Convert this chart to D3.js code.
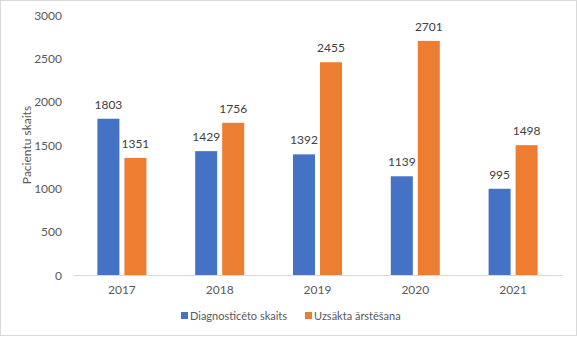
<!DOCTYPE html>
<html><head><meta charset="utf-8">
<script src="https://cdn.jsdelivr.net/npm/d3@7"></script>
<style>body{margin:0;background:#fff}svg{display:block}text{font-family:Lato,"Open Sans",sans-serif}</style>
</head><body>
<svg id="c" width="577" height="337"></svg>
<script>
const categories = ["2017","2018","2019","2020","2021"];
const seriesNames = ["Diagnosticēto skaits","Uzsākta ārstēšana"];
const diagnosed = [1803,1429,1392,1139,995];
const treated = [1351,1756,2455,2701,1498];
const yTicks = [0,500,1000,1500,2000,2500,3000];
const colors = ["#4472c4","#ed7d31"];
const yTitle = "Pacientu skaits";

const svg = d3.select("#c");
svg.append("rect").attr("x",0.5).attr("y",0.5).attr("width",576).attr("height",335)
  .attr("fill","#fff").attr("stroke","#d9d9d9");

const x0 = d3.scaleBand().domain(categories).range([73,562]);
const y = d3.scaleLinear().domain([0,3000]).range([275,15]);
const barW = 22, gap = 5;
const series = [diagnosed, treated];

// y tick labels
const yAxis = d3.axisLeft(y).tickValues(yTicks).tickFormat(d3.format("d")).tickSize(0).tickPadding(0);
const ga = svg.append("g").attr("transform","translate(62,0)").call(yAxis);
ga.select(".domain").remove();
ga.selectAll("text").attr("fill","#595959").style("font-size","12px").attr("dy","0.35em").style("font-family","Lato,sans-serif");

// bars
series.forEach((vals,si)=>{
  const off = -(barW*2+gap)/2 + si*(barW+gap);
  svg.append("g").selectAll("rect").data(vals).join("rect")
    .attr("x",(d,i)=>x0(categories[i])+x0.bandwidth()/2+off)
    .attr("y",d=>y(d)).attr("width",barW).attr("height",d=>y(0)-y(d))
    .attr("fill",colors[si]);
  svg.append("g").selectAll("text").data(vals).join("text")
    .attr("x",(d,i)=>x0(categories[i])+x0.bandwidth()/2+off+barW/2)
    .attr("y",d=>y(d)-10).attr("text-anchor","middle")
    .attr("fill","#404040").style("font-size","12px").text(d=>d);
});

// x axis
const xAxis = d3.axisBottom(x0).tickSize(0).tickPadding(10);
const gx = svg.append("g").attr("transform","translate(0,275)").call(xAxis);
gx.select(".domain").attr("stroke","#d9d9d9");
gx.selectAll("text").attr("fill","#595959").style("font-size","12px").style("font-family","Lato,sans-serif");

// y title
svg.append("text").attr("transform","translate(31,145) rotate(-90)").attr("text-anchor","middle")
  .attr("fill","#595959").style("font-size","12px").text(yTitle);

// legend
const legX = [181,305];
seriesNames.forEach((n,i)=>{
  svg.append("rect").attr("x",legX[i]).attr("y",312).attr("width",7).attr("height",7).attr("fill",colors[i]);
  svg.append("text").attr("x",legX[i]+9).attr("y",320).attr("fill","#595959").style("font-size","11px").text(n);
});
</script>
</body></html>
